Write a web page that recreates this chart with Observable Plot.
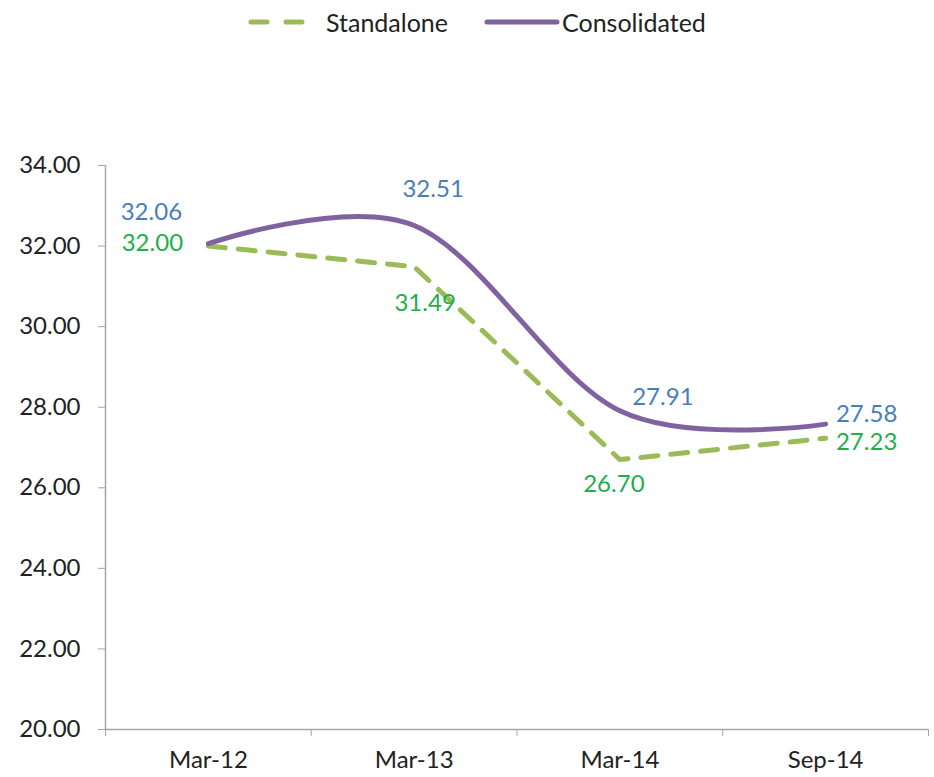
<!DOCTYPE html>
<html>
<head>
<meta charset="utf-8">
<script src="https://cdn.jsdelivr.net/npm/d3@7"></script>
<script src="https://cdn.jsdelivr.net/npm/@observablehq/plot@0.6"></script>
<style>
  html, body { margin: 0; padding: 0; background: #fff; }
  body { width: 934px; font-family: Lato, "Open Sans", sans-serif; }
  #legend { position: relative; width: 934px; height: 45px; }
  #legend .item { position: absolute; top: 0; height: 43px; display: flex; align-items: center; font-size: 25px; color: #222; }
  #chart svg { display: block; }
</style>
</head>
<body>
<div id="legend"></div>
<div id="chart"></div>
<script>
const categories = ["Mar-12", "Mar-13", "Mar-14", "Sep-14"];
const standalone = [32.00, 31.49, 26.70, 27.23];
const consolidated = [32.06, 32.51, 27.91, 27.58];
const yTicks = [20, 22, 24, 26, 28, 30, 32, 34];
const seriesNames = ["Standalone", "Consolidated"];

const green = "#9BBB59";
const purple = "#7F63A1";
const greenLabel = "#1fae4c";
const blueLabel = "#4a7ebb";

const rowsS = standalone.map((v, i) => ({i, v}));
const rowsC = consolidated.map((v, i) => ({i, v}));

// Legend
const legend = document.getElementById("legend");
legend.innerHTML = `
  <div class="item" style="left:248px">
    <svg width="60" height="10"><line x1="3" y1="5" x2="57" y2="5" stroke="${green}" stroke-width="5" stroke-linecap="round" stroke-dasharray="16,19"/></svg>
  </div>
  <div class="item" style="left:326px">${seriesNames[0]}</div>
  <div class="item" style="left:484px">
    <svg width="76" height="10"><line x1="3" y1="5" x2="73" y2="5" stroke="${purple}" stroke-width="5" stroke-linecap="round"/></svg>
  </div>
  <div class="item" style="left:562px">${seriesNames[1]}</div>
`;

function label(rows, i, color, dx, dy) {
  return Plot.text([rows[i]], {
    x: "i", y: "v", text: d => d.v.toFixed(2),
    fill: color, dx, dy, fontSize: 24, textAnchor: "middle"
  });
}

const chart = Plot.plot({
  width: 934,
  height: 732,
  marginTop: 120,
  marginBottom: 48,
  marginLeft: 105,
  marginRight: 6,
  x: { type: "linear", domain: [-0.5, 3.5], axis: null },
  y: { domain: [20, 34], axis: null },
  style: { fontFamily: "Lato, 'Open Sans', sans-serif", fontSize: "24px", color: "#222", background: "#fff" },
  marks: [
    Plot.axisY({ ticks: yTicks, tickSize: 7, tickPadding: 18, tickFormat: d => d.toFixed(2), stroke: "#a6a6a6", fill: "#222", fontSize: 24, label: null }),
    Plot.ruleX([-0.5], { stroke: "#a6a6a6", strokeWidth: 1.5 }),
    Plot.ruleY([20], { stroke: "#a6a6a6", strokeWidth: 1.5 }),
    Plot.axisX({ ticks: [-0.5, 0.5, 1.5, 2.5, 3.5], tickSize: 7, tickFormat: () => "", stroke: "#a6a6a6", label: null }),
    Plot.axisX({ ticks: [0, 1, 2, 3], tickSize: 0, tickPadding: 21, tickFormat: i => categories[i], fill: "#222", fontSize: 24, label: null }),
    Plot.line(rowsS, { x: "i", y: "v", stroke: green, strokeWidth: 5, strokeDasharray: "17,13", strokeLinecap: "round", strokeLinejoin: "round" }),
    Plot.line(rowsC, { x: "i", y: "v", stroke: purple, strokeWidth: 5, curve: "cardinal", tension: 0, strokeLinecap: "round" }),
    label(rowsC, 0, blueLabel, -57, -31),
    label(rowsS, 0, greenLabel, -56, -3),
    label(rowsC, 1, blueLabel, 19, -36),
    label(rowsS, 1, greenLabel, 11, 37),
    label(rowsC, 2, blueLabel, 43, -14),
    label(rowsS, 2, greenLabel, -6, 25),
    label(rowsC, 3, blueLabel, 41, -10),
    label(rowsS, 3, greenLabel, 41, 4)
  ]
});
document.getElementById("chart").appendChild(chart);
</script>
</body>
</html>
